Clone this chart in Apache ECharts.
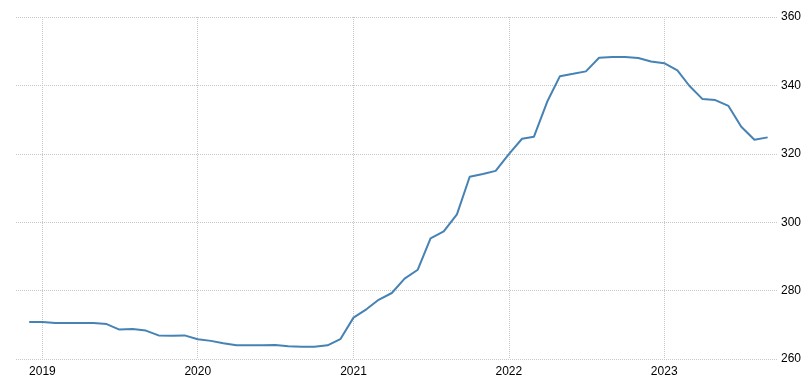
<!DOCTYPE html>
<html>
<head>
<meta charset="utf-8">
<script src="https://cdn.jsdelivr.net/npm/echarts@6/dist/echarts.min.js"></script>
<style>
html,body{margin:0;padding:0;background:#fff;}
#c{width:812px;height:391px;}
</style>
</head>
<body>
<div id="c"></div>
<script>
// Monthly dates (first of month), Dec 2018 .. Sep 2023
const months = [
  '2018-12-01',
  '2019-01-01','2019-02-01','2019-03-01','2019-04-01','2019-05-01','2019-06-01',
  '2019-07-01','2019-08-01','2019-09-01','2019-10-01','2019-11-01','2019-12-01',
  '2020-01-01','2020-02-01','2020-03-01','2020-04-01','2020-05-01','2020-06-01',
  '2020-07-01','2020-08-01','2020-09-01','2020-10-01','2020-11-01','2020-12-01',
  '2021-01-01','2021-02-01','2021-03-01','2021-04-01','2021-05-01','2021-06-01',
  '2021-07-01','2021-08-01','2021-09-01','2021-10-01','2021-11-01','2021-12-01',
  '2022-01-01','2022-02-01','2022-03-01','2022-04-01','2022-05-01','2022-06-01',
  '2022-07-01','2022-08-01','2022-09-01','2022-10-01','2022-11-01','2022-12-01',
  '2023-01-01','2023-02-01','2023-03-01','2023-04-01','2023-05-01','2023-06-01',
  '2023-07-01','2023-08-01','2023-09-01'
];
const values = [
  270.8,
  270.8,270.5,270.5,270.5,270.5,270.2,
  268.6,268.8,268.3,266.9,266.8,266.9,
  265.8,265.3,264.6,264.0,264.0,264.0,
  264.1,263.7,263.6,263.6,264.0,265.8,
  272.1,274.6,277.3,279.3,283.5,286.1,
  295.3,297.3,302.3,313.3,314.1,315.0,
  319.9,324.4,325.0,335.2,342.7,343.4,
  344.1,348.1,348.3,348.3,348.0,347.0,
  346.5,344.4,339.9,336.0,335.7,334.0,
  327.9,324.1,324.8
];
const yTicks = [260, 280, 300, 320, 340, 360];

const chart = echarts.init(document.getElementById('c'), null, {renderer: 'canvas'});
const DAY = 24 * 3600 * 1000;
const xMin = Date.UTC(2018, 9, 31, 0, 0, 0);
const xMax = Date.UTC(2023, 8, 23, 0, 0, 0);
chart.setOption({
  animation: false,
  backgroundColor: '#ffffff',
  grid: {left: 16, right: 35, top: 17, bottom: 32, containLabel: false},
  xAxis: {
    type: 'time',
    min: xMin,
    max: xMax,
    minInterval: 365 * DAY,
    maxInterval: 366 * DAY,
    axisLine: {show: false},
    axisTick: {show: false},
    axisLabel: {
      formatter: function (v) { return String(new Date(v).getUTCFullYear()); },
      color: '#000',
      fontFamily: 'Liberation Sans, Arial, sans-serif',
      fontSize: 12,
      margin: 7,
      showMinLabel: false,
      showMaxLabel: false
    },
    splitLine: {show: true, showMinLine: false, showMaxLine: false,
      lineStyle: {color: '#c8c8c8', type: [1, 1], width: 1}}
  },
  yAxis: {
    type: 'value',
    position: 'right',
    min: yTicks[0],
    max: yTicks[yTicks.length - 1],
    interval: 20,
    axisLine: {show: false},
    axisTick: {show: false},
    axisLabel: {
      color: '#000',
      fontFamily: 'Liberation Sans, Arial, sans-serif',
      fontSize: 12,
      margin: 4
    },
    splitLine: {show: true, lineStyle: {color: '#c8c8c8', type: [1, 1], width: 1}}
  },
  series: [{
    type: 'line',
    data: months.map((m, i) => [m, values[i]]),
    showSymbol: false,
    symbol: 'none',
    lineStyle: {color: '#4682b4', width: 2},
    itemStyle: {color: '#4682b4'}
  }]
});
</script>
</body>
</html>
